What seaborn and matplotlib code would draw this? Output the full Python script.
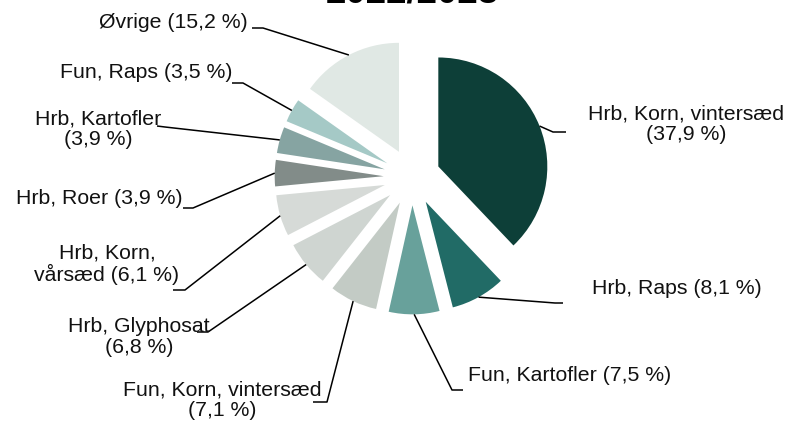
import numpy as np
import seaborn as sns
import matplotlib.pyplot as plt

# data
labels = ["Hrb, Korn, vintersæd\n(37,9 %)", "Hrb, Raps (8,1 %)", "Fun, Kartofler (7,5 %)",
          "Fun, Korn, vintersæd\n(7,1 %)", "Hrb, Glyphosat\n(6,8 %)", "Hrb, Korn,\nvårsæd (6,1 %)",
          "Hrb, Roer (3,9 %)", "Hrb, Kartofler\n(3,9 %)", "Fun, Raps (3,5 %)", "Øvrige (15,2 %)"]
shares = [37.9, 8.1, 7.5, 7.1, 6.8, 6.1, 3.9, 3.9, 3.5, 15.2]
colors = ["#0d3f38", "#216b66", "#68a19b", "#c3cbc5", "#cfd5d1",
          "#d6dad7", "#828c89", "#86a4a2", "#a5c9c6", "#e0e8e4"]
title = "2022/2023"

# layout (pixels): label centre, elbow of leader, end of leader
CX, CY, R = 412, 177, 109
label_px = [(686, 124), (677, 288), (570, 375), (222, 400), (139, 337),
            (107, 264), (99, 198), (98, 129), (146, 72), (173, 22)]
elbow_px = [(553, 132), (555, 303), (452, 390), (327, 402), (208, 332),
            (185, 290), (193, 208), (165, 127), (243, 83), (263, 28)]
end_px = [(566, 132), (563, 303), (463, 390), (313, 402), (197, 332),
          (173, 290), (183, 208), (157, 126), (232, 83), (252, 28)]
explode = 0.26


def to_data(p):
    return ((p[0] - CX) / R, (CY - p[1]) / R)


sns.set_style("white")
plt.rcParams["font.family"] = ["Liberation Sans", "DejaVu Sans"]

fig = plt.figure(figsize=(7.89, 4.23), dpi=100)
ax = fig.add_axes([0, 0, 1, 1])
ax.axis("off")

wedges, _ = ax.pie(shares, colors=colors, startangle=90, counterclock=False,
                   explode=[explode] * len(shares), radius=1,
                   wedgeprops=dict(linewidth=0))

for w, lab, lp, ep, en in zip(wedges, labels, label_px, elbow_px, end_px):
    ang = np.deg2rad((w.theta1 + w.theta2) / 2)
    start = ((1 + explode) * np.cos(ang), (1 + explode) * np.sin(ang))
    pts = [start, to_data(ep), to_data(en)]
    ax.plot([p[0] for p in pts], [p[1] for p in pts], color="black", lw=1.1,
            solid_capstyle="butt")
    x, y = to_data(lp)
    ax.text(x, y, lab, ha="center", va="center", multialignment="center",
            fontsize=15.3, color="#111111", linespacing=1.1)

ax.set_xlim(-CX / R, (789 - CX) / R)
ax.set_ylim(-(423 - CY) / R, CY / R)

fig.text(412 / 789, 1 - 2.5 / 423, title, ha="center", va="baseline",
         fontsize=26.4, fontweight="heavy", color="black")

fig.savefig("out.png", dpi=100)
